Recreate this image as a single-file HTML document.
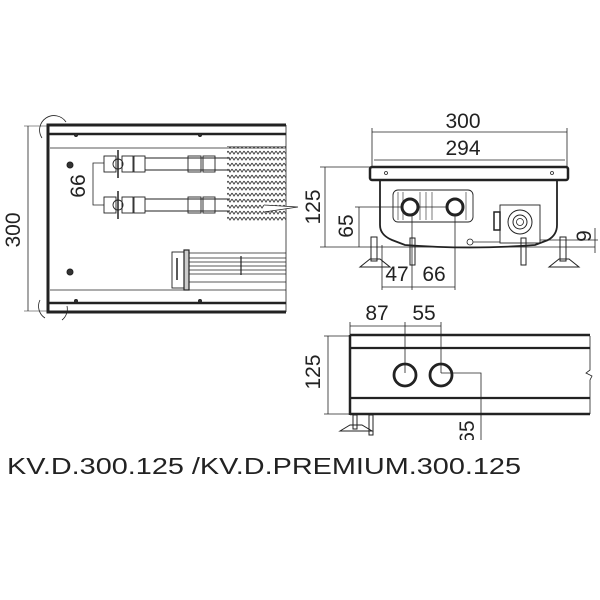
<!DOCTYPE html>
<html><head><meta charset="utf-8"><style>
html,body{margin:0;padding:0;background:#fff;width:600px;height:600px;overflow:hidden}
svg{display:block}
text{font-family:"Liberation Sans",sans-serif;fill:#222}
</style></head><body>
<svg width="600" height="600" viewBox="0 0 600 600" xmlns="http://www.w3.org/2000/svg">
<defs>
<pattern id="fins" width="4" height="6" patternUnits="userSpaceOnUse">
<path d="M0 1 L2 4 L4 1" fill="none" stroke="#444" stroke-width="1"/>
</pattern>
</defs>
<g fill="none" stroke="#222">
<path d="M286 125 H48 V312 H286" stroke-width="3"/>
<line x1="48" y1="134" x2="286" y2="134" stroke-width="2.5"/>
<line x1="48" y1="303" x2="286" y2="303" stroke-width="2.5"/>
<line x1="50" y1="148" x2="286" y2="148" stroke-width="0.8"/>
<line x1="50" y1="290" x2="286" y2="290" stroke-width="0.8"/>
<line x1="286" y1="125" x2="286" y2="312" stroke-width="0.8"/>
<path d="M42 138 A14 14 0 1 1 66 122" stroke-width="0.8"/>
<path d="M45 318 A14 14 0 0 1 40 300" stroke-width="0.8"/>
<path d="M62 320 A14 14 0 0 0 67 306" stroke-width="0.8"/>
<line x1="28" y1="126" x2="28" y2="311" stroke-width="0.8"/>
<line x1="24" y1="126" x2="48" y2="126" stroke-width="0.6"/>
<line x1="24" y1="311" x2="48" y2="311" stroke-width="0.6"/>
<circle cx="70" cy="165" r="3" fill="#333"/>
<circle cx="70" cy="272" r="3" fill="#333"/>
<circle cx="76" cy="135" r="1.5" fill="#333"/><circle cx="200" cy="135" r="1.5" fill="#333"/>
<circle cx="76" cy="301" r="1.5" fill="#333"/><circle cx="200" cy="301" r="1.5" fill="#333"/>
<g stroke-width="0.9">
<line x1="145" y1="158" x2="230" y2="158"/><line x1="145" y1="170" x2="230" y2="170"/>
<line x1="145" y1="199" x2="230" y2="199"/><line x1="145" y1="211" x2="230" y2="211"/>
<rect x="104" y="156" width="12" height="16"/><rect x="122" y="156" width="11" height="16"/><rect x="134" y="156" width="11" height="16"/>
<rect x="188" y="156" width="13" height="16"/><rect x="203" y="156" width="12" height="16"/>
<rect x="104" y="197" width="12" height="16"/><rect x="122" y="197" width="11" height="16"/><rect x="134" y="197" width="11" height="16"/>
<rect x="188" y="197" width="13" height="16"/><rect x="203" y="197" width="12" height="16"/>
<circle cx="118" cy="164" r="5"/><circle cx="118" cy="205" r="5"/>
<line x1="118" y1="150" x2="118" y2="178" stroke-width="1.5"/>
<line x1="118" y1="191" x2="118" y2="219" stroke-width="1.5"/>
</g>
<path d="M104 163 H93 V205 H104" stroke-width="0.8"/>
<rect x="227" y="146" width="59" height="76" fill="url(#fins)" stroke="none"/>
<path d="M264 205 L298 207 L264 212" stroke-width="0.8" fill="#fff"/>
<rect x="172" y="252" width="14" height="36" stroke-width="0.9"/>
<rect x="184" y="250" width="5" height="40" stroke-width="1.2" fill="#ccc"/>
<path d="M177 258 V280" stroke-width="1.5"/>
<g stroke-width="0.8">
<line x1="189" y1="253" x2="286" y2="253"/><line x1="189" y1="258" x2="286" y2="258"/>
<line x1="189" y1="262" x2="286" y2="262"/><line x1="189" y1="266" x2="286" y2="266"/>
<line x1="189" y1="270" x2="286" y2="270"/><line x1="189" y1="274" x2="286" y2="274"/>
<line x1="189" y1="282" x2="286" y2="282"/><line x1="241" y1="256" x2="241" y2="275" stroke-width="1.2"/>
</g>

<g stroke-width="0.8">
<line x1="372" y1="132" x2="567" y2="132"/>
<line x1="372" y1="128" x2="372" y2="168"/><line x1="567" y1="128" x2="567" y2="168"/>
<line x1="374" y1="160" x2="565" y2="160"/>
<line x1="320" y1="247" x2="595" y2="247"/>
<line x1="325" y1="167" x2="325" y2="247"/><line x1="320" y1="167" x2="372" y2="167"/>
<line x1="359" y1="207" x2="359" y2="247"/><line x1="355" y1="207" x2="455" y2="207"/>
<line x1="382" y1="245" x2="382" y2="290"/><line x1="412" y1="207" x2="412" y2="290"/><line x1="455" y1="207" x2="455" y2="290"/>
<line x1="382" y1="287" x2="455" y2="287"/>
<line x1="595" y1="228" x2="595" y2="253"/><line x1="540" y1="240" x2="598" y2="240"/>
</g>
<rect x="370" y="167" width="198" height="13" rx="2" stroke-width="2.5"/>
<circle cx="386" cy="173" r="1.5" stroke-width="0.8"/><circle cx="552" cy="173" r="1.5" stroke-width="0.8"/>
<path d="M380 180 V225 Q380 235 392 240 L405 245 Q470 250 535 245 L548 240 Q557 235 557 225 V180" stroke-width="1.8"/>
<rect x="393" y="190" width="80" height="32" rx="5" stroke-width="0.9"/>
<g stroke-width="0.6"><line x1="398" y1="192" x2="398" y2="220"/><line x1="403" y1="192" x2="403" y2="220"/><line x1="420" y1="192" x2="420" y2="220"/><line x1="426" y1="192" x2="426" y2="220"/><line x1="432" y1="192" x2="432" y2="220"/><line x1="466" y1="192" x2="466" y2="220"/></g>
<circle cx="410" cy="207" r="8" stroke-width="3" fill="#fff"/>
<circle cx="455" cy="207" r="8" stroke-width="3" fill="#fff"/>
<rect x="500" y="205" width="40" height="38" stroke-width="0.9"/>
<circle cx="520" cy="222" r="12" stroke-width="1"/><circle cx="520" cy="222" r="7" stroke-width="1"/><circle cx="520" cy="222" r="3.5" stroke-width="0.8"/>
<rect x="494" y="212" width="6" height="18" stroke-width="1.5"/>
<circle cx="470" cy="242" r="3" stroke-width="0.8"/>
<line x1="473" y1="242" x2="500" y2="242" stroke-width="0.8"/>
<g stroke-width="1">
<rect x="371" y="237" width="6" height="24"/><path d="M360 267 L370 259 H380 L390 267 Z"/>
<rect x="560" y="237" width="6" height="24"/><path d="M549 267 L559 259 H569 L579 267 Z"/>
<rect x="410" y="238" width="5" height="27"/><rect x="521" y="238" width="5" height="27"/>
</g>

<g stroke-width="0.8">
<line x1="350" y1="326" x2="441" y2="326"/>
<line x1="350" y1="322" x2="350" y2="336"/><line x1="441" y1="322" x2="441" y2="373"/><line x1="405" y1="322" x2="405" y2="373"/>
<line x1="328" y1="336" x2="328" y2="414"/>
<line x1="324" y1="336" x2="350" y2="336"/><line x1="324" y1="414" x2="350" y2="414"/>
<path d="M441 373 H481 V440"/>
<path d="M590 336 V370 L586 373 L592 376 L590 380 V414"/>
</g>
<line x1="350" y1="335" x2="350" y2="415" stroke-width="2.5"/>
<line x1="350" y1="335" x2="590" y2="335" stroke-width="2.5"/>
<line x1="350" y1="348" x2="590" y2="348" stroke-width="2.2"/>
<line x1="350" y1="398" x2="590" y2="398" stroke-width="2.2"/>
<line x1="350" y1="414" x2="590" y2="414" stroke-width="2.5"/>
<circle cx="405" cy="375" r="11" stroke-width="2.8"/>
<circle cx="441" cy="375" r="11" stroke-width="2.8"/>
<g stroke-width="1">
<rect x="353" y="415" width="4" height="14"/><rect x="369" y="415" width="4" height="20"/>
<path d="M340 431 L350 425 H362 L372 431 Z"/>
</g>
</g>
<text x="20" y="230" font-size="21" text-anchor="middle" transform="rotate(-90 20 230)">300</text>
<text x="85" y="186" font-size="21" text-anchor="middle" transform="rotate(-90 85 186)">66</text>
<text x="463" y="128" font-size="21" text-anchor="middle">300</text>
<text x="463" y="155" font-size="21" text-anchor="middle">294</text>
<text x="320" y="207" font-size="21" text-anchor="middle" transform="rotate(-90 320 207)">125</text>
<text x="353" y="226" font-size="21" text-anchor="middle" transform="rotate(-90 353 226)">65</text>
<text x="397" y="281" font-size="21" text-anchor="middle">47</text>
<text x="434" y="281" font-size="21" text-anchor="middle">66</text>
<text x="591" y="236" font-size="21" text-anchor="middle" transform="rotate(-90 591 236)">9</text>
<text x="377" y="320" font-size="21" text-anchor="middle">87</text>
<text x="424" y="320" font-size="21" text-anchor="middle">55</text>
<text x="320" y="372" font-size="21" text-anchor="middle" transform="rotate(-90 320 372)">125</text>
<text x="474" y="432" font-size="21" text-anchor="middle" transform="rotate(-90 474 432)">65</text>
<rect x="455" y="440" width="40" height="20" fill="#fff"/>
<text x="7" y="474" font-size="23" textLength="514" lengthAdjust="spacingAndGlyphs" fill="#111">KV.D.300.125 /KV.D.PREMIUM.300.125</text>
</svg>
</body></html>
